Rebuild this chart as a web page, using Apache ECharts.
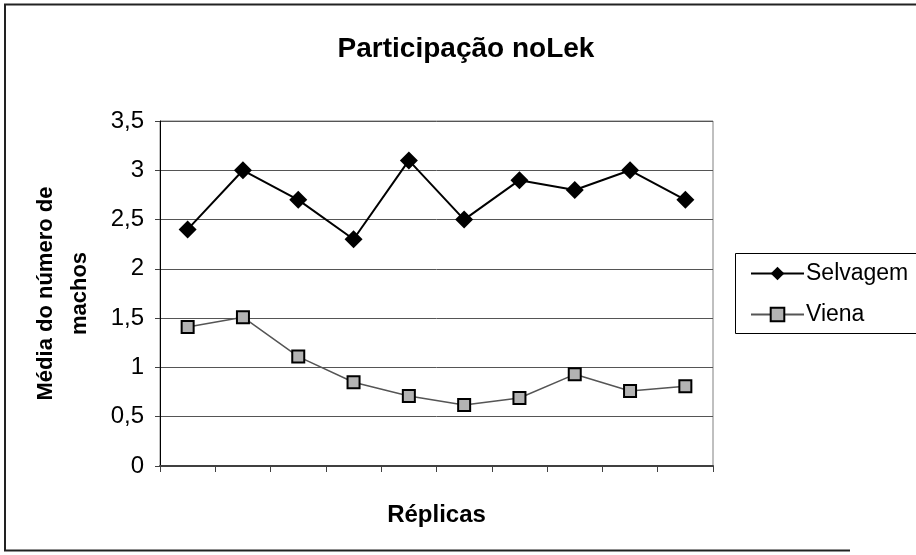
<!DOCTYPE html>
<html>
<head>
<meta charset="utf-8">
<script src="https://cdn.jsdelivr.net/npm/echarts@6/dist/echarts.min.js"></script>
<style>
  html, body { margin: 0; padding: 0; background: #fff; }
  #chart { width: 916px; height: 555px; }
</style>
</head>
<body>
<div id="chart"></div>
<script>
// Réplicas (10 replicates, unlabeled on the axis)
const replicas = ['1', '2', '3', '4', '5', '6', '7', '8', '9', '10'];
// Mean number of males per replicate
const selvagem = [2.4, 3.0, 2.7, 2.3, 3.1, 2.5, 2.9, 2.8, 3.0, 2.7];
const viena = [1.41, 1.51, 1.11, 0.85, 0.71, 0.62, 0.69, 0.93, 0.76, 0.81];
const yTicks = { min: 0, max: 3.5, step: 0.5 };

const FONT = '"Liberation Sans", Arial, sans-serif';

const chart = echarts.init(document.getElementById('chart'));
chart.setOption({
  animation: false,
  backgroundColor: '#fff',
  textStyle: { fontFamily: FONT },
  title: {
    text: 'Participação noLek',
    left: 461,
    textAlign: 'center',
    top: 30,
    textStyle: { fontFamily: FONT, fontSize: 28, fontWeight: 'bold', color: '#000' }
  },
  legend: {
    orient: 'vertical',
    left: 745,
    top: 257,
    itemGap: 18,
    itemWidth: 53,
    itemHeight: 17,
    textStyle: { fontFamily: FONT, fontSize: 23, color: '#000', padding: [0, 0, 0, -3] },
    data: ['Selvagem', 'Viena']
  },
  graphic: [
    {
      type: 'polyline',
      shape: { points: [[916, 4.5], [5, 4.5], [5, 550.5], [850, 550.5]] },
      style: { fill: 'none', stroke: '#222', lineWidth: 2 },
      silent: true, z: -1
    },
    {
      type: 'rect',
      shape: { x: 735.5, y: 253.5, width: 200, height: 80 },
      style: { fill: '#fff', stroke: '#000', lineWidth: 1 },
      silent: true, z: -1
    }
  ],
  grid: {
    left: 160,
    top: 121,
    right: 203,
    bottom: 89,
    show: true,
    borderColor: '#808080',
    borderWidth: 1,
    backgroundColor: '#fff'
  },
  xAxis: {
    type: 'category',
    data: replicas,
    boundaryGap: true,
    name: 'Réplicas',
    nameLocation: 'middle',
    nameGap: 37,
    nameTextStyle: { fontFamily: FONT, fontSize: 24, fontWeight: 'bold', color: '#000' },
    axisLine: { lineStyle: { color: '#404040', width: 2 } },
    axisTick: { show: true, length: 6, lineStyle: { color: '#404040', width: 1 } },
    axisLabel: { show: false },
    splitLine: { show: false }
  },
  yAxis: {
    type: 'value',
    min: yTicks.min,
    max: yTicks.max,
    interval: yTicks.step,
    name: 'Média do número de\nmachos',
    nameLocation: 'middle',
    nameRotate: 90,
    nameGap: 63,
    nameTextStyle: { fontFamily: FONT, fontSize: 22, fontWeight: 'bold', color: '#000', lineHeight: 34 },
    axisLine: { show: true, lineStyle: { color: '#000', width: 1 } },
    axisTick: { show: true, length: 5, lineStyle: { color: '#404040' } },
    axisLabel: {
      fontFamily: FONT, fontSize: 24, color: '#000', margin: 16,
      formatter: v => String(v).replace('.', ',')
    },
    splitLine: { show: true, lineStyle: { color: '#555', width: 1 } }
  },
  series: [
    {
      name: 'Selvagem',
      type: 'line',
      data: selvagem,
      symbol: 'diamond',
      symbolSize: 18,
      lineStyle: { color: '#000', width: 2 },
      itemStyle: { color: '#000', borderColor: '#000', borderWidth: 0 }
    },
    {
      name: 'Viena',
      type: 'line',
      data: viena,
      symbol: 'rect',
      symbolSize: 12,
      lineStyle: { color: '#555', width: 1.5 },
      itemStyle: { color: '#b3b3b3', borderColor: '#000', borderWidth: 2 }
    }
  ]
});
</script>
</body>
</html>
